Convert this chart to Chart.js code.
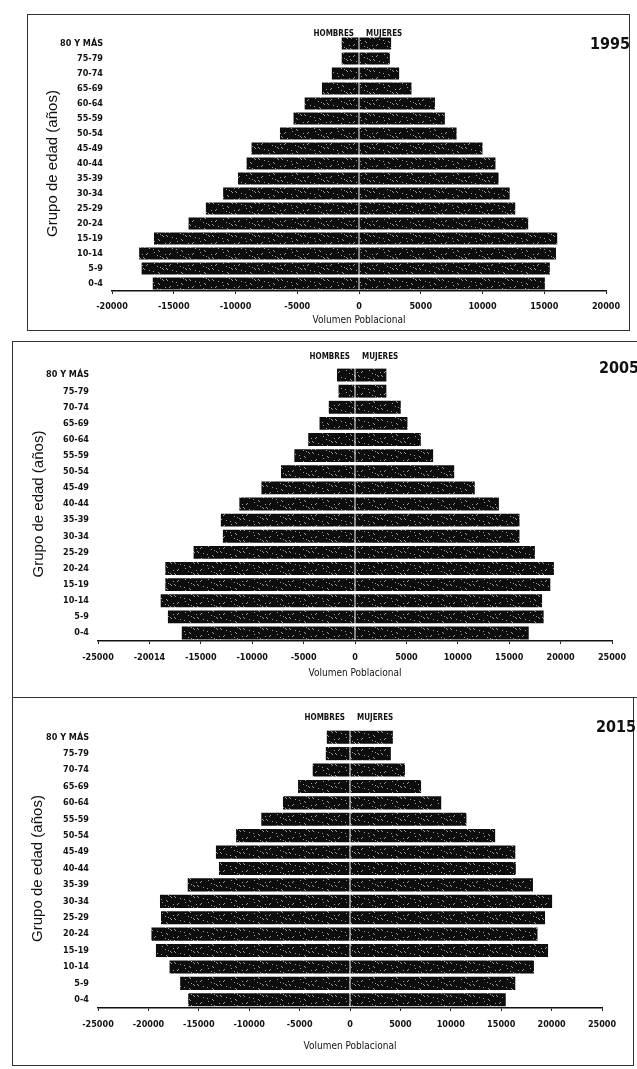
<!DOCTYPE html>
<html>
<head>
<meta charset="utf-8">
<script src="https://cdn.jsdelivr.net/npm/chart.js@4.4.1/dist/chart.umd.min.js"></script>
<style>
body { margin: 0; background: #fff; width: 637px; height: 1069px; position: relative; overflow: hidden; }
.panel { position: absolute; border: 1px solid #333; box-sizing: border-box; }
.panel canvas { position: absolute; left: 0; top: 0; }
.year { position: absolute; font: bold 16px 'Liberation Sans Narrow', 'DejaVu Sans Condensed', sans-serif; color: #111; }
</style>
</head>
<body>

<div class="panel" id="p1" style="left:27px; top:14px; width:603px; height:317px;">
  <canvas id="c1" width="601" height="315"></canvas>
  <div class="year" style="left:562px; top:19px;">1995</div>
</div>
<div class="panel" id="p2" style="left:12px; top:341px; width:632px; height:357px;">
  <canvas id="c2" width="630" height="355"></canvas>
  <div class="year" style="left:586px; top:16px;">2005</div>
</div>
<div class="panel" id="p3" style="left:12px; top:697px; width:622px; height:369px;">
  <canvas id="c3" width="620" height="367"></canvas>
  <div class="year" style="left:583px; top:19px;">2015</div>
</div>

<script>
var ageGroups = ['80 Y MÁS', '75-79', '70-74', '65-69', '60-64', '55-59', '50-54', '45-49', '40-44',
                 '35-39', '30-34', '25-29', '20-24', '15-19', '10-14', '5-9', '0-4'];

// hombres negativos, mujeres positivos
var men1995   = [-1400, -1400, -2200, -3000, -4400, -5300, -6400, -8700, -9100, -9800, -11000, -12400, -13800, -16600, -17800, -17600, -16700];
var women1995 = [2600, 2500, 3250, 4250, 6150, 6950, 7900, 10000, 11050, 11300, 12200, 12650, 13700, 16050, 15950, 15450, 15050];

var men2005   = [-1750, -1600, -2550, -3450, -4550, -5900, -7200, -9100, -11250, -13050, -12850, -15700, -18450, -18450, -18900, -18200, -16850];
var women2005 = [3050, 3050, 4450, 5100, 6400, 7600, 9650, 11650, 14000, 16000, 16000, 17500, 19350, 19000, 18200, 18350, 16900];

var men2015   = [-2300, -2400, -3700, -5150, -6650, -8800, -11300, -13300, -13000, -16100, -18850, -18750, -19700, -19250, -17900, -16850, -16050];
var women2015 = [4250, 4050, 5450, 7050, 9050, 11550, 14400, 16400, 16450, 18150, 20050, 19350, 18600, 19650, 18250, 16400, 15450];

var ticks1995 = ['-20000', '-15000', '-10000', '-5000', '0', '5000', '10000', '15000', '20000'];
var ticks2005 = ['-25000', '-20014', '-15000', '-10000', '-5000', '0', '5000', '10000', '15000', '20000', '25000'];
var ticks2015 = ['-25000', '-20000', '-15000', '-10000', '-5000', '0', '5000', '10000', '15000', '20000', '25000'];

var narrow = "'Liberation Sans Narrow', 'DejaVu Sans Condensed', sans-serif";

// textura de fotocopia: puntos claros sobre negro (patron fijo)
function barPattern() {
    var c = document.createElement('canvas');
    c.width = 23; c.height = 11;
    var g = c.getContext('2d');
    g.fillStyle = '#0d0d0d';
    g.fillRect(0, 0, c.width, c.height);
    g.fillStyle = '#9a9a9a';
    for (var x = 0; x < c.width; x++) {
        for (var y = 0; y < c.height; y++) {
            if ((x * 7 + y * 11 + x * y) % 19 == 0) g.fillRect(x, y, 1, 1);
        }
    }
    return g.createPattern(c, 'repeat');
}
var fill = barPattern();

// HOMBRES / MUJERES sobre el cero
var sexLabels = {
    id: 'sexLabels',
    afterDraw: function (chart) {
        var ctx = chart.ctx;
        var x0 = chart.scales.x.getPixelForValue(0);
        var y = chart.chartArea.top - chart.options.plugins.sexLabels.gap;
        ctx.save();
        ctx.font = 'bold 8px ' + narrow;
        ctx.fillStyle = '#111';
        ctx.textBaseline = 'middle';
        ctx.textAlign = 'right';
        ctx.fillText('HOMBRES', x0 - 5, y);
        ctx.textAlign = 'left';
        ctx.fillText('MUJERES', x0 + 7, y);
        ctx.restore();
    }
};

function pyramid(id, men, women, tickLabels, lim, pad, yWidth, xHeight, tickPad, gap) {
    var ctx = document.getElementById(id).getContext('2d');
    return new Chart(ctx, {
        type: 'bar',
        data: {
            labels: ageGroups,
            datasets: [{
                label: 'HOMBRES',
                data: men,
                backgroundColor: fill,
                borderWidth: 0
            }, {
                label: 'MUJERES',
                data: women,
                backgroundColor: fill,
                borderWidth: 0
            }]
        },
        plugins: [sexLabels],
        options: {
            indexAxis: 'y',
            responsive: false,
            animation: false,
            layout: { padding: pad },
            barPercentage: 0.8,
            categoryPercentage: 1,
            plugins: {
                legend: { display: false },
                tooltip: { enabled: false },
                sexLabels: { gap: gap }
            },
            scales: {
                x: {
                    stacked: true,
                    min: -lim,
                    max: lim,
                    afterFit: function (s) { s.height = xHeight; },
                    afterBuildTicks: function (s) {
                        s.ticks = [];
                        for (var v = -lim; v <= lim; v += 5000) s.ticks.push({ value: v });
                    },
                    grid: { display: true, drawOnChartArea: false, tickLength: 3, color: '#222' },
                    border: { display: true, color: '#111', width: 1.5 },
                    ticks: {
                        autoSkip: false,
                        maxRotation: 0,
                        padding: tickPad,
                        color: '#111',
                        font: { family: narrow, size: 9, weight: 'bold' },
                        callback: function (value, index) { return tickLabels[index]; }
                    },
                    title: {
                        display: true,
                        text: 'Volumen Poblacional',
                        color: '#111',
                        padding: 0,
                        font: { family: narrow, size: 10 }
                    }
                },
                y: {
                    stacked: true,
                    afterFit: function (s) { s.width = yWidth; },
                    grid: { display: false, drawTicks: false },
                    border: { display: false },
                    ticks: {
                        padding: 9,
                        color: '#111',
                        font: { family: narrow, size: 9, weight: 'bold' }
                    },
                    title: {
                        display: true,
                        text: 'Grupo de edad (años)',
                        color: '#111',
                        padding: 0,
                        font: { family: "'Liberation Sans', sans-serif", size: 15 }
                    }
                }
            }
        }
    });
}

pyramid('c1', men1995, women1995, ticks1995, 20000, { left: 16, right: 23, top: 21, bottom: 4 }, 68, 35, 7, 2);
pyramid('c2', men2005, women2005, ticks2005, 25000, { left: 17, right: 31, top: 25, bottom: 18 }, 68, 38, 8, 10);
pyramid('c3', men2015, women2015, ticks2015, 25000, { left: 16, right: 31, top: 31, bottom: 13 }, 69, 44, 8, 11);
</script>
</body>
</html>
